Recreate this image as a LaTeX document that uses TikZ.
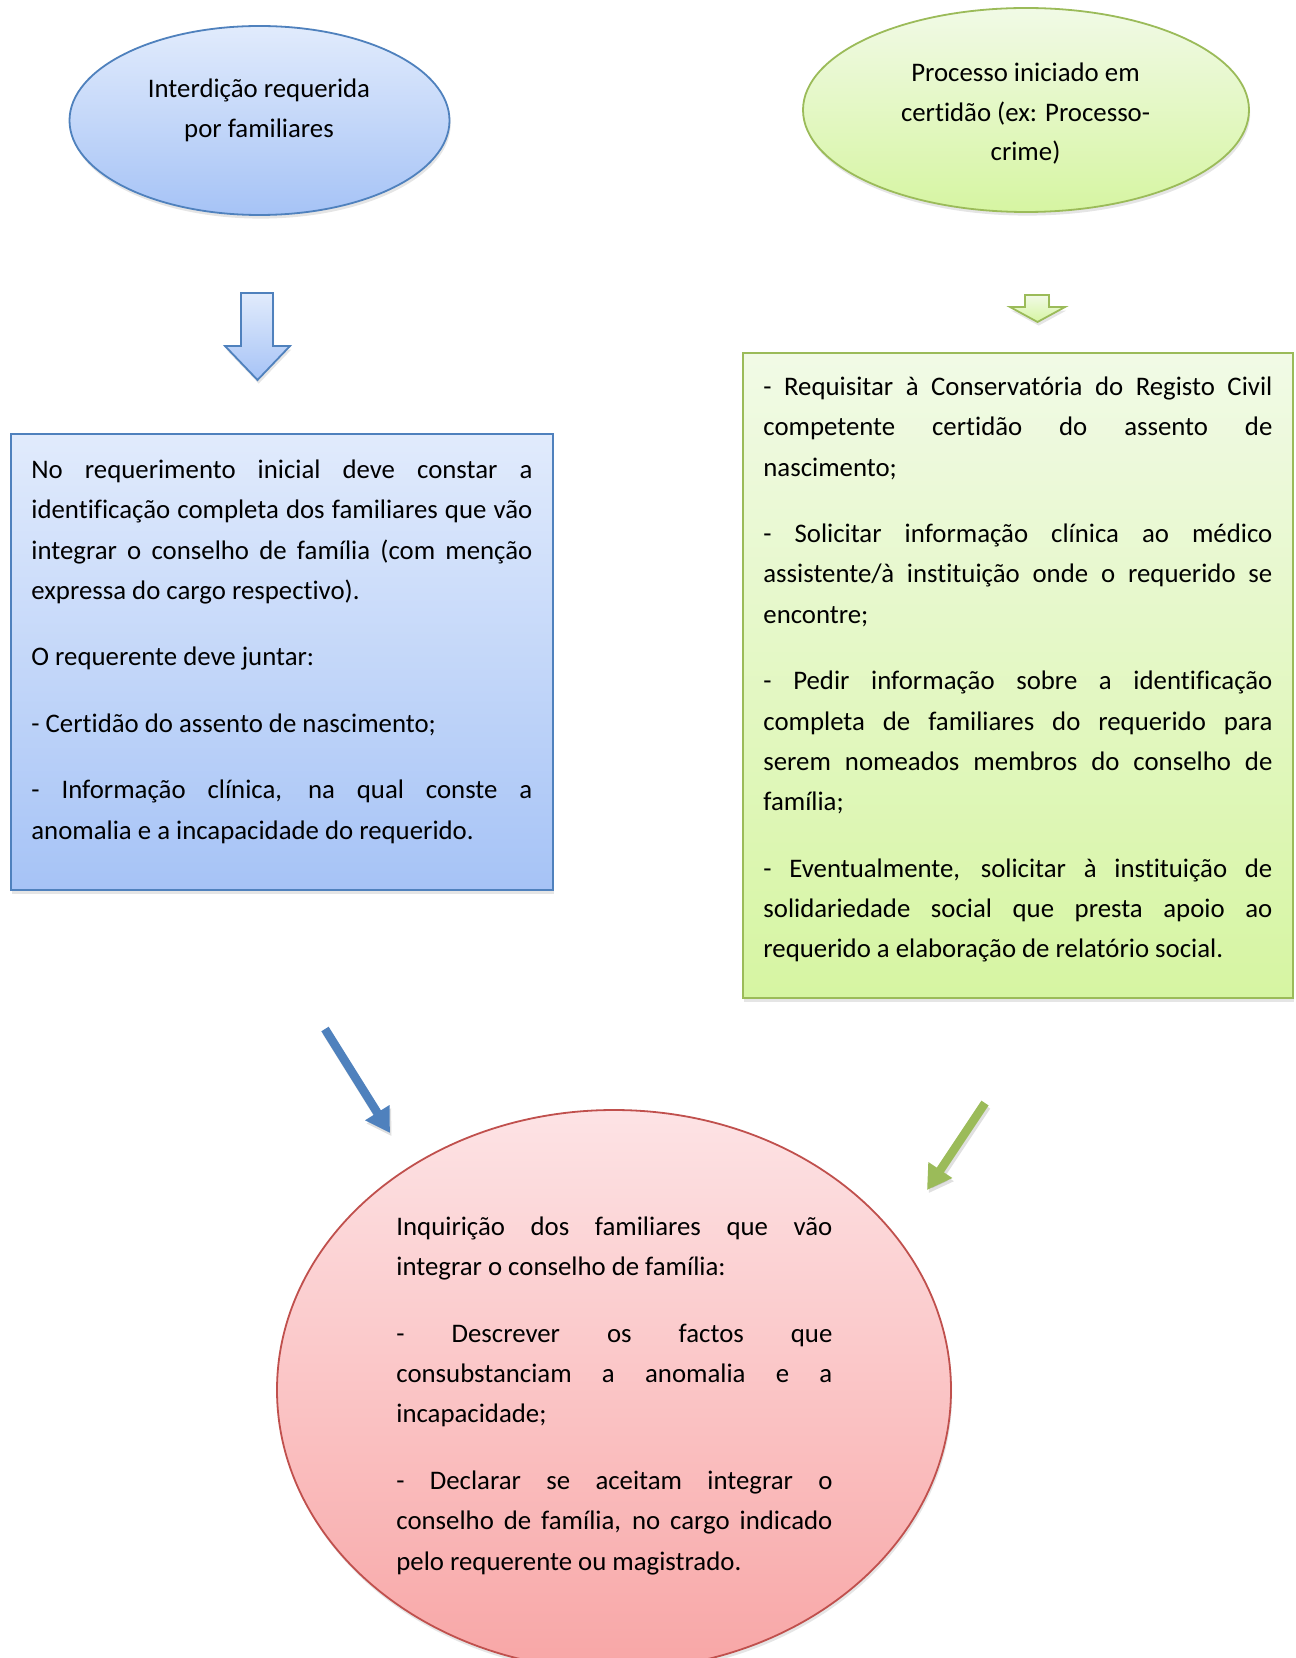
\documentclass[tikz,border=0pt]{standalone}
\usepackage{fontspec}
\setmainfont{Carlito}[Ligatures=NoCommon]
\usetikzlibrary{shapes.geometric,shadows,arrows.meta}

\definecolor{blueTop}{HTML}{E1EBFC}
\definecolor{blueBot}{HTML}{A6C3F6}
\definecolor{blueLine}{HTML}{4F81BD}
\definecolor{greenTop}{HTML}{F1FAE6}
\definecolor{greenBot}{HTML}{D6F5A2}
\definecolor{greenLine}{HTML}{9BBB59}
\definecolor{pinkTop}{HTML}{FDE3E5}
\definecolor{pinkBot}{HTML}{F8A6A6}
\definecolor{pinkLine}{HTML}{C0504D}

% text helpers: a block of body text, a justified line, a last line, a paragraph gap
\newcommand{\bodytext}[2]{\parbox[t]{#1}{\fontsize{13.4}{20.15}\selectfont #2}}
\newcommand{\jline}[1]{\makebox[\linewidth][s]{#1}\par}
\newcommand{\lastline}[1]{#1\par}
\newcommand{\paragap}{\vspace{13.1pt}}
\newcommand{\titletext}[2]{\parbox[t]{#1}{\centering\fontsize{13.4}{19.7}\selectfont #2}}

\tikzset{
  softshadow/.style={drop shadow={opacity=0.2, shadow xshift=0.6pt, shadow yshift=-1.8pt}},
  shapebase/.style={draw, line width=0.9pt, inner sep=0pt, softshadow},
  blueshape/.style={shapebase, draw=blueLine, top color=blueTop, bottom color=blueBot},
  greenshape/.style={shapebase, draw=greenLine, top color=greenTop, bottom color=greenBot},
  pinkshape/.style={shapebase, draw=pinkLine, top color=pinkTop, bottom color=pinkBot},
  txt/.style={inner sep=0pt, anchor=base west, text=black},
  ctxt/.style={inner sep=0pt, anchor=base, text=black},
  diagarrow/.style={line width=4.3pt, -{Triangle[length=12pt,width=13.5pt]}},
  arrowshadow/.style={line width=4.3pt, -{Triangle[length=12pt,width=13.5pt]}, black, opacity=0.12},
}

\begin{document}
\begin{tikzpicture}[x=0.5pt,y=-0.5pt]
\useasboundingbox (0,0) rectangle (1295,1658);
\fill[white] (0,0) rectangle (1295,1658);

% top ovals
\node[blueshape, ellipse, minimum width=190pt, minimum height=94.5pt] (famOval) at (259.5,120.5) {};
\node[greenshape, ellipse, minimum width=223pt, minimum height=102pt] (procOval) at (1026,110) {};
\node[ctxt] (famTitle) at (259,98) {\titletext{200pt}{Interdição requerida\\por familiares}};
\node[ctxt] (procTitle) at (1025.5,82) {\titletext{200pt}{Processo iniciado em\\certidão (ex: Processo-\\crime)}};

% block arrows below the ovals
\path[blueshape] (241,293) -- (273,293) -- (273,346) -- (290,346) -- (257.5,380)
  -- (225,346) -- (241,346) -- cycle;
\path[greenshape] (1025,295) -- (1049,295) -- (1049,307) -- (1065,307) -- (1037.5,322)
  -- (1010,307) -- (1025,307) -- cycle;

% text boxes
\node[blueshape, rectangle, minimum width=271pt, minimum height=228pt] (famBox) at (282,662) {};
\node[greenshape, rectangle, minimum width=275pt, minimum height=322.5pt] (procBox) at (1018,675.5) {};

\node[txt] (famText) at (31,478.5) {\bodytext{250.5pt}{%
  \jline{No requerimento inicial deve constar a}
  \jline{identificação completa dos familiares que vão}
  \jline{integrar o conselho de família (com menção}
  \lastline{expressa do cargo respectivo).}
  \paragap
  \lastline{O requerente deve juntar:}
  \paragap
  \lastline{- Certidão do assento de nascimento;}
  \paragap
  \jline{- Informação clínica, na qual conste a}
  \lastline{anomalia e a incapacidade do requerido.}}};

\node[txt] (procText) at (763,395.5) {\bodytext{254.5pt}{%
  \jline{- Requisitar à Conservatória do Registo Civil}
  \jline{competente certidão do assento de}
  \lastline{nascimento;}
  \paragap
  \jline{- Solicitar informação clínica ao médico}
  \jline{assistente/à instituição onde o requerido se}
  \lastline{encontre;}
  \paragap
  \jline{- Pedir informação sobre a identificação}
  \jline{completa de familiares do requerido para}
  \jline{serem nomeados membros do conselho de}
  \lastline{família;}
  \paragap
  \jline{- Eventualmente, solicitar à instituição de}
  \jline{solidariedade social que presta apoio ao}
  \lastline{requerido a elaboração de relatório social.}}};

% bottom oval
\node[pinkshape, ellipse, minimum width=337pt, minimum height=280pt] (inqOval) at (614,1390) {};
\node[txt] (inqText) at (396,1235.5) {\bodytext{218pt}{%
  \jline{Inquirição dos familiares que vão}
  \lastline{integrar o conselho de família:}
  \paragap
  \jline{- Descrever os factos que}
  \jline{consubstanciam a anomalia e a}
  \lastline{incapacidade;}
  \paragap
  \jline{- Declarar se aceitam integrar o}
  \jline{conselho de família, no cargo indicado}
  \lastline{pelo requerente ou magistrado.}}};

% diagonal arrows towards the bottom oval
\coordinate (blueStart) at (325,1029);
\coordinate (blueEnd) at (390,1133);
\coordinate (greenStart) at (985,1103);
\coordinate (greenEnd) at (927,1190);
\draw[arrowshadow, transform canvas={xshift=0.8pt, yshift=-1.6pt}] (blueStart) -- (blueEnd);
\draw[arrowshadow, transform canvas={xshift=0.8pt, yshift=-1.6pt}] (greenStart) -- (greenEnd);
\draw[diagarrow, blueLine] (blueStart) -- (blueEnd);
\draw[diagarrow, greenLine] (greenStart) -- (greenEnd);
\end{tikzpicture}
\end{document}
